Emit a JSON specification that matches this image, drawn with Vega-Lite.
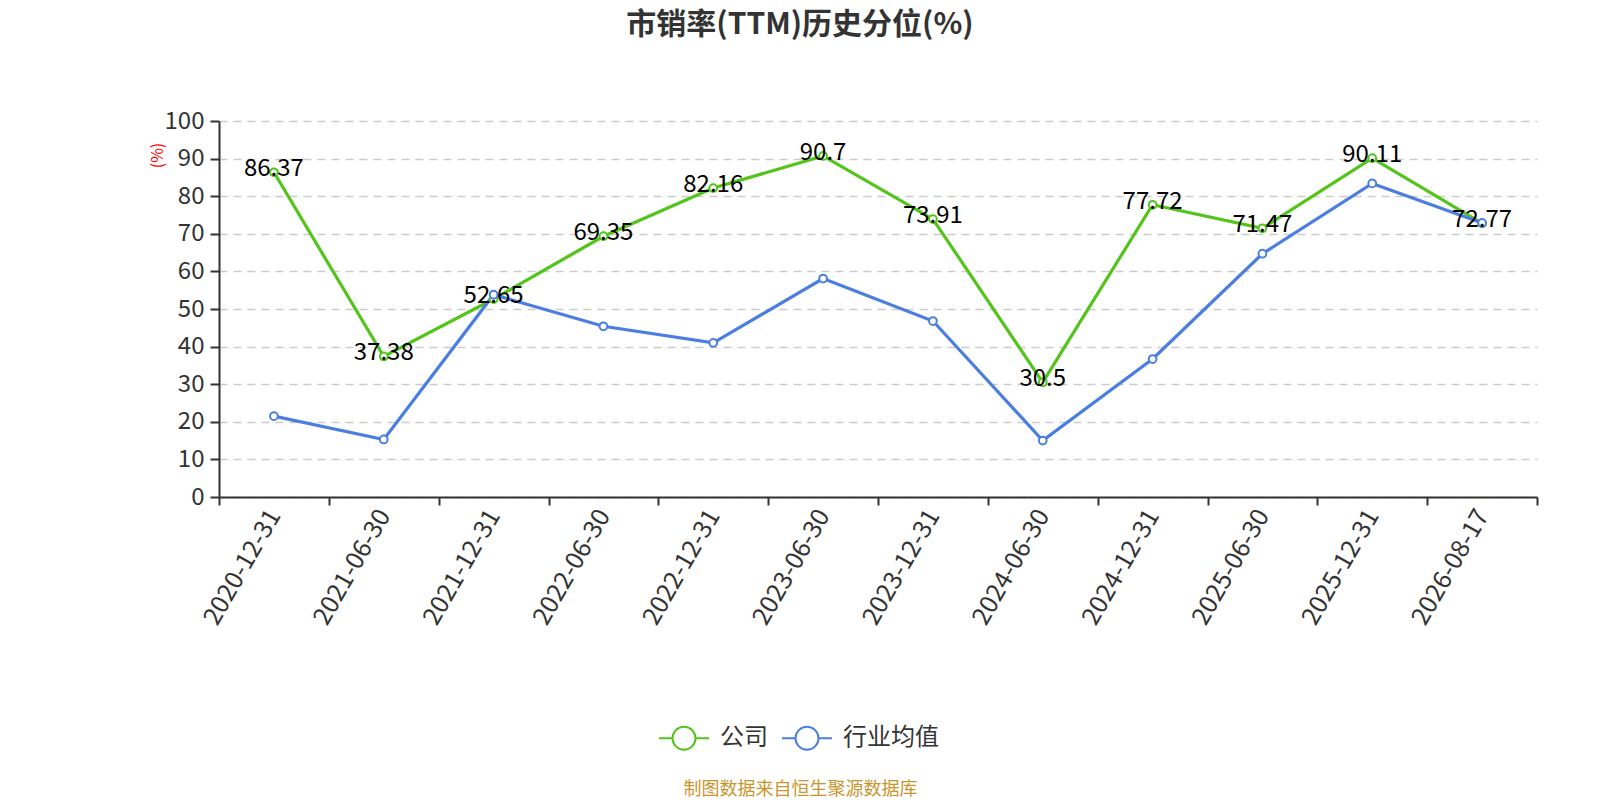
{
  "$schema": "https://vega.github.io/schema/vega-lite/v5.json",
  "description": "市销率(TTM)历史分位 line chart",
  "width": 1318,
  "height": 376,
  "autosize": {"type": "none"},
  "padding": {"left": 219, "top": 121, "right": 63, "bottom": 303},
  "background": "white",
  "config": {"font": "Noto Sans CJK SC", "view": {"stroke": null}},
  "title": {
    "text": "市销率(TTM)历史分位(%)",
    "fontSize": 30,
    "fontWeight": "bold",
    "color": "#333333",
    "anchor": "middle",
    "dx": -78,
    "offset": 69
  },
  "data": {
    "values": [
      {"date": "2020-12-31", "series": "公司", "value": 86.37},
      {"date": "2021-06-30", "series": "公司", "value": 37.38},
      {"date": "2021-12-31", "series": "公司", "value": 52.65},
      {"date": "2022-06-30", "series": "公司", "value": 69.35},
      {"date": "2022-12-31", "series": "公司", "value": 82.16},
      {"date": "2023-06-30", "series": "公司", "value": 90.7},
      {"date": "2023-12-31", "series": "公司", "value": 73.91},
      {"date": "2024-06-30", "series": "公司", "value": 30.5},
      {"date": "2024-12-31", "series": "公司", "value": 77.72},
      {"date": "2025-06-30", "series": "公司", "value": 71.47},
      {"date": "2025-12-31", "series": "公司", "value": 90.11},
      {"date": "2026-08-17", "series": "公司", "value": 72.77},
      {"date": "2020-12-31", "series": "行业均值", "value": 21.5},
      {"date": "2021-06-30", "series": "行业均值", "value": 15.3},
      {"date": "2021-12-31", "series": "行业均值", "value": 53.8},
      {"date": "2022-06-30", "series": "行业均值", "value": 45.4},
      {"date": "2022-12-31", "series": "行业均值", "value": 41.0},
      {"date": "2023-06-30", "series": "行业均值", "value": 58.1},
      {"date": "2023-12-31", "series": "行业均值", "value": 46.8},
      {"date": "2024-06-30", "series": "行业均值", "value": 15.0},
      {"date": "2024-12-31", "series": "行业均值", "value": 36.7},
      {"date": "2025-06-30", "series": "行业均值", "value": 64.7},
      {"date": "2025-12-31", "series": "行业均值", "value": 83.4},
      {"date": "2026-08-17", "series": "行业均值", "value": 72.9}
    ]
  },
  "encoding": {
    "x": {
      "field": "date",
      "type": "nominal",
      "sort": null,
      "bandPosition": 0.5,
      "scale": {"type": "band", "paddingInner": 0, "paddingOuter": 0},
      "axis": {
        "tickBand": "extent",
        "labelAngle": -60,
        "labelAlign": "right",
        "labelBaseline": "middle",
        "labelFontSize": 25,
        "labelColor": "#333333",
        "labelPadding": 6,
        "tickSize": 8,
        "tickWidth": 2,
        "tickColor": "#333333",
        "domainColor": "#333333",
        "domainWidth": 2,
        "grid": false,
        "title": "制图数据来自恒生聚源数据库",
        "titleColor": "#c8962d",
        "titleFontSize": 18,
        "titleFontWeight": "normal",
        "titleX": 581,
        "titleY": 292,
        "titleAlign": "center",
        "titleBaseline": "middle"
      }
    },
    "y": {
      "field": "value",
      "type": "quantitative",
      "scale": {"domain": [0, 100]},
      "axis": {
        "values": [0, 10, 20, 30, 40, 50, 60, 70, 80, 90, 100],
        "grid": true,
        "gridColor": "#cccccc",
        "gridDash": [8, 6],
        "gridWidth": 1.5,
        "labelFontSize": 24,
        "labelColor": "#333333",
        "labelPadding": 6,
        "tickSize": 9,
        "tickWidth": 2,
        "tickColor": "#333333",
        "domainColor": "#333333",
        "domainWidth": 2,
        "title": "(%)",
        "titleColor": "red",
        "titleFontSize": 16,
        "titleFontWeight": "normal",
        "titleAngle": -90,
        "titleX": -62,
        "titleY": 34,
        "titleAlign": "center",
        "titleBaseline": "middle"
      }
    }
  },
  "layer": [
    {
      "mark": {"type": "line", "strokeWidth": 3.2},
      "encoding": {
        "color": {
          "field": "series",
          "type": "nominal",
          "scale": {"domain": ["公司", "行业均值"], "range": ["#52c41a", "#4a7ee0"]},
          "legend": {
            "orient": "none",
            "legendX": 439,
            "legendY": 591,
            "direction": "horizontal",
            "title": null,
            "symbolType": "M-1,0L-0.46,0M0.46,0L1,0M-0.46,0A0.46,0.46,0,1,1,0.46,0A0.46,0.46,0,1,1,-0.46,0",
            "symbolSize": 2500,
            "symbolStrokeWidth": 2,
            "labelFontSize": 24,
            "labelColor": "#333333",
            "labelOffset": 10,
            "columnPadding": 10,
            "symbolFillColor": "white",
            "encode": {"symbols": {"update": {"strokeWidth": {"value": 2}, "fill": {"value": "white"}}}}
          }
        }
      }
    },
    {
      "mark": {"type": "point", "filled": false, "fill": "white", "size": 60, "strokeWidth": 2, "opacity": 1},
      "encoding": {
        "stroke": {
          "field": "series",
          "type": "nominal",
          "scale": {"domain": ["公司", "行业均值"], "range": ["#52c41a", "#4a7ee0"]},
          "legend": null
        }
      }
    },
    {
      "transform": [{"filter": "datum.series === '公司'"}],
      "mark": {"type": "text", "fontSize": 24, "color": "#000000", "baseline": "middle", "dy": -3},
      "encoding": {"text": {"field": "value", "type": "quantitative"}}
    }
  ]
}
